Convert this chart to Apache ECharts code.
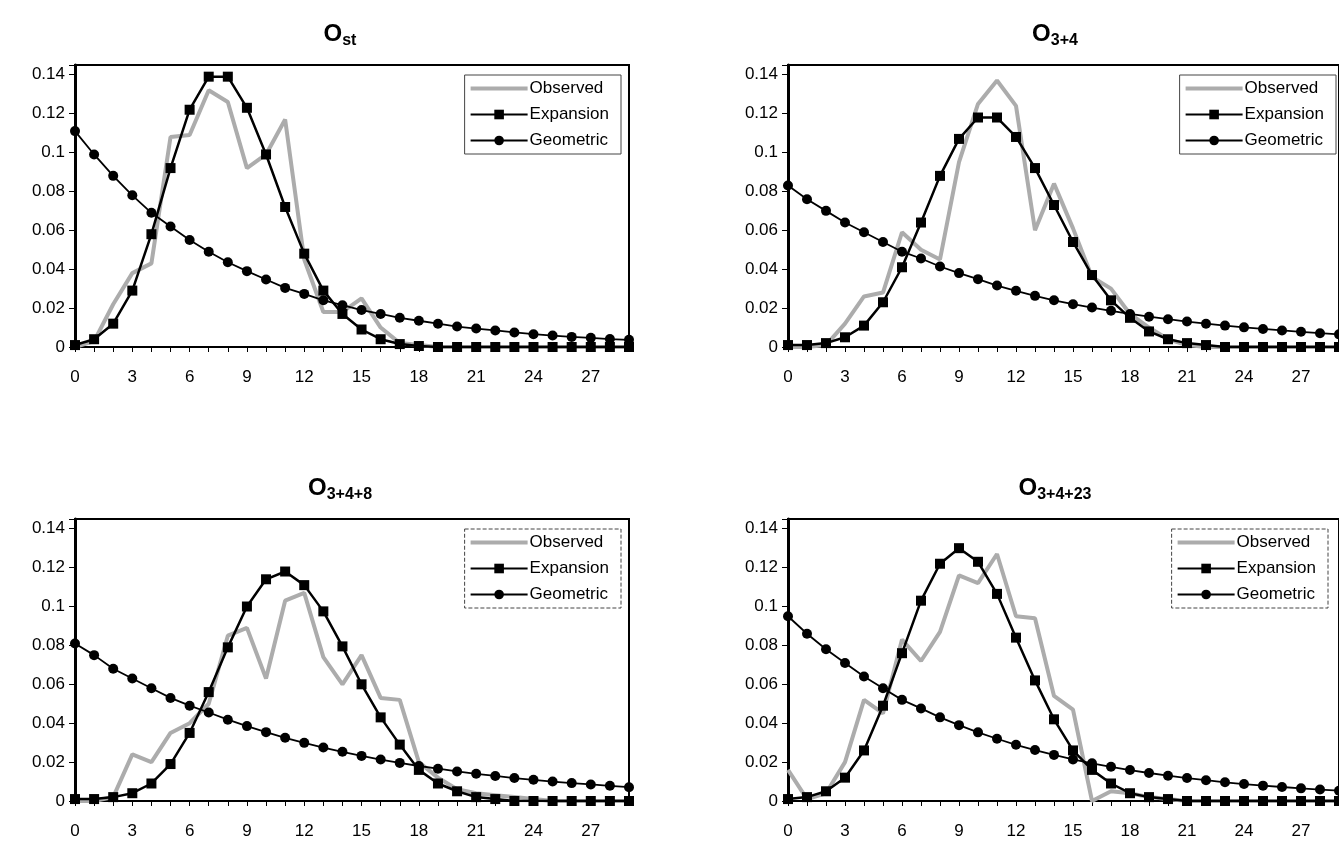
<!DOCTYPE html>
<html>
<head>
<meta charset="utf-8">
<script src="https://cdn.jsdelivr.net/npm/echarts@6/dist/echarts.min.js"></script>
<style>
  html, body { margin: 0; padding: 0; background: #fff; }
  #main { width: 1339px; height: 844px; }
</style>
</head>
<body>
<div id="main"></div>
<script>
// x categories (0 .. 29)
let cats = ['0','1','2','3','4','5','6','7','8','9','10','11','12','13','14','15','16','17','18','19','20','21','22','23','24','25','26','27','28','29']
let yTicks = [0, 0.02, 0.04, 0.06, 0.08, 0.1, 0.12, 0.14]
let seriesNames = ['Observed', 'Expansion', 'Geometric']

// O_st
let ostObserved = [0, 0.003, 0.022, 0.038, 0.043, 0.108, 0.109, 0.132, 0.126, 0.092, 0.099, 0.117, 0.045, 0.018, 0.018, 0.025, 0.01, 0.002, 0.001, 0, 0, 0, 0, 0, 0, 0, 0, 0, 0, 0]
let ostExpansion = [0.001, 0.004, 0.012, 0.029, 0.058, 0.092, 0.122, 0.139, 0.139, 0.123, 0.099, 0.072, 0.048, 0.029, 0.017, 0.009, 0.004, 0.0015, 0.0005, 0, 0, 0, 0, 0, 0, 0, 0, 0, 0, 0]
let ostGeometric = [0.111, 0.099, 0.088, 0.078, 0.069, 0.062, 0.055, 0.049, 0.0436, 0.039, 0.0347, 0.0304, 0.0273, 0.024, 0.0215, 0.019, 0.017, 0.015, 0.0135, 0.012, 0.0105, 0.0095, 0.0085, 0.0075, 0.0066, 0.0059, 0.0052, 0.0047, 0.0041, 0.0037]

// O_3+4
let o34Observed = [0, 0, 0.001, 0.012, 0.026, 0.028, 0.059, 0.05, 0.045, 0.095, 0.125, 0.137, 0.124, 0.06, 0.084, 0.061, 0.036, 0.03, 0.017, 0.01, 0.004, 0.001, 0, 0, 0, 0, 0, 0, 0, 0]
let o34Expansion = [0.001, 0.001, 0.002, 0.005, 0.011, 0.023, 0.041, 0.064, 0.088, 0.107, 0.118, 0.118, 0.108, 0.092, 0.073, 0.054, 0.037, 0.024, 0.015, 0.008, 0.004, 0.002, 0.001, 0, 0, 0, 0, 0, 0, 0]
let o34Geometric = [0.083, 0.076, 0.07, 0.064, 0.059, 0.054, 0.049, 0.0455, 0.0414, 0.038, 0.0349, 0.0316, 0.0289, 0.0263, 0.024, 0.022, 0.0203, 0.0186, 0.017, 0.0156, 0.0143, 0.0131, 0.012, 0.011, 0.0101, 0.0093, 0.0085, 0.0078, 0.0071, 0.0065]

// O_3+4+8
let o348Observed = [0, 0, 0.002, 0.024, 0.02, 0.035, 0.04, 0.05, 0.085, 0.089, 0.063, 0.103, 0.107, 0.074, 0.06, 0.075, 0.053, 0.052, 0.02, 0.012, 0.006, 0.004, 0.003, 0.002, 0.001, 0, 0, 0, 0, 0]
let o348Expansion = [0.001, 0.001, 0.002, 0.004, 0.009, 0.019, 0.035, 0.056, 0.079, 0.1, 0.114, 0.118, 0.111, 0.0975, 0.0795, 0.06, 0.043, 0.029, 0.016, 0.009, 0.005, 0.002, 0.001, 0, 0, 0, 0, 0, 0, 0]
let o348Geometric = [0.081, 0.075, 0.068, 0.063, 0.058, 0.053, 0.049, 0.0455, 0.0418, 0.0385, 0.0354, 0.0325, 0.0299, 0.0275, 0.0253, 0.0232, 0.0213, 0.0196, 0.018, 0.0166, 0.0152, 0.014, 0.0129, 0.0118, 0.0109, 0.01, 0.0092, 0.0085, 0.0078, 0.0071]

// O_3+4+23
let o3423Observed = [0.016, 0.001, 0.004, 0.02, 0.052, 0.045, 0.083, 0.072, 0.087, 0.116, 0.112, 0.127, 0.095, 0.094, 0.054, 0.047, 0, 0.005, 0.004, 0.002, 0.001, 0, 0, 0, 0, 0, 0, 0, 0, 0]
let o3423Expansion = [0.001, 0.002, 0.005, 0.012, 0.026, 0.049, 0.076, 0.103, 0.122, 0.13, 0.123, 0.1065, 0.084, 0.062, 0.042, 0.026, 0.016, 0.009, 0.004, 0.002, 0.001, 0, 0, 0, 0, 0, 0, 0, 0, 0]
let o3423Geometric = [0.095, 0.086, 0.078, 0.071, 0.064, 0.058, 0.052, 0.0476, 0.043, 0.039, 0.0353, 0.032, 0.0289, 0.0262, 0.0237, 0.0214, 0.0194, 0.0176, 0.0159, 0.0144, 0.013, 0.0118, 0.0107, 0.0096, 0.0087, 0.0079, 0.0072, 0.0065, 0.0059, 0.0053]

// panel setup: title main letter + subscript
let panels = [
  { sub: 'st', data: [ostObserved, ostExpansion, ostGeometric], left: 75, top: 65, width: 554, titleX: 335, legendRight: 718, dashed: false },
  { sub: '3+4', data: [o34Observed, o34Expansion, o34Geometric], left: 788, top: 65, width: 553, titleX: 1050, legendRight: 3, dashed: false },
  { sub: '3+4+8', data: [o348Observed, o348Expansion, o348Geometric], left: 75, top: 519, width: 554, titleX: 335, legendRight: 718, dashed: true },
  { sub: '3+4+23', data: [o3423Observed, o3423Expansion, o3423Geometric], left: 788, top: 519, width: 553, titleX: 1050, legendRight: 11, dashed: true }
]

let font = 'Liberation Sans, Arial, sans-serif'
let textColor = '#000'
let obsColor = '#acacac'

let chartDom = document.getElementById('main')
let myChart = echarts.init(chartDom, null, { renderer: 'canvas' })

let title = []
let grid = []
let xAxis = []
let yAxis = []
let legend = []
let series = []

panels.forEach((p, i) => {
  title.push({
    text: '{o|O}{s|' + p.sub + '}',
    left: p.titleX,
    top: p.top - 50,
    textAlign: 'center',
    textStyle: {
      rich: {
        o: { fontFamily: font, fontSize: 24, fontWeight: 'bold', color: textColor, lineHeight: 28 },
        s: { fontFamily: font, fontSize: 16, fontWeight: 'bold', color: textColor, padding: [14, 0, 0, 0], lineHeight: 28 }
      }
    }
  })
  grid.push({
    left: p.left,
    top: p.top,
    width: p.width,
    height: 282,
    show: true,
    borderColor: '#000',
    borderWidth: 2,
    backgroundColor: 'transparent'
  })
  xAxis.push({
    type: 'category',
    gridIndex: i,
    data: cats,
    boundaryGap: false,
    axisLine: { lineStyle: { color: '#000', width: 2 } },
    axisTick: { show: true, interval: 0, length: 5, lineStyle: { color: '#000' } },
    axisLabel: { interval: 2, color: textColor, fontFamily: font, fontSize: 17, margin: 22 },
    splitLine: { show: false }
  })
  yAxis.push({
    type: 'value',
    gridIndex: i,
    min: 0,
    max: 0.145,
    interval: 0.02,
    axisLine: { show: true, lineStyle: { color: '#000', width: 3 } },
    axisTick: { show: true, length: 6, lineStyle: { color: '#000' } },
    axisLabel: {
      color: textColor, fontFamily: font, fontSize: 17, margin: 10,
      formatter: v => (yTicks.some(t => Math.abs(t - v) < 1e-6) ? String(+v.toFixed(2)) : '')
    },
    splitLine: { show: false }
  })
  legend.push({
    data: [
      { name: 'Observed', icon: 'path://M0,0L60,0L60,4L0,4Z' },
      'Expansion',
      'Geometric'
    ],
    orient: 'vertical',
    right: p.legendRight,
    top: p.top + 10,
    backgroundColor: '#fff',
    borderColor: '#444',
    borderWidth: 1,
    borderType: p.dashed ? 'dashed' : 'solid',
    padding: [5, 12, 5, 5],
    itemGap: 9,
    itemWidth: 57,
    itemHeight: 12,
    textStyle: { color: textColor, fontFamily: font, fontSize: 17, padding: [0, 0, 0, -3] },
    selectedMode: false
  })
  series.push(
    {
      name: 'Observed',
      type: 'line',
      xAxisIndex: i,
      yAxisIndex: i,
      data: p.data[0],
      symbol: 'none',
      lineStyle: { color: obsColor, width: 4 },
      itemStyle: { color: obsColor },
      animation: false
    },
    {
      name: 'Expansion',
      type: 'line',
      xAxisIndex: i,
      yAxisIndex: i,
      data: p.data[1],
      symbol: 'rect',
      symbolSize: 10,
      lineStyle: { color: '#000', width: 2.5 },
      itemStyle: { color: '#000' },
      animation: false
    },
    {
      name: 'Geometric',
      type: 'line',
      xAxisIndex: i,
      yAxisIndex: i,
      data: p.data[2],
      symbol: 'circle',
      symbolSize: 10,
      lineStyle: { color: '#000', width: 1.8 },
      itemStyle: { color: '#000' },
      animation: false
    }
  )
})

let option = {
  backgroundColor: '#fff',
  animation: false,
  title: title,
  grid: grid,
  xAxis: xAxis,
  yAxis: yAxis,
  legend: legend,
  series: series
}

option && myChart.setOption(option)
</script>
</body>
</html>
